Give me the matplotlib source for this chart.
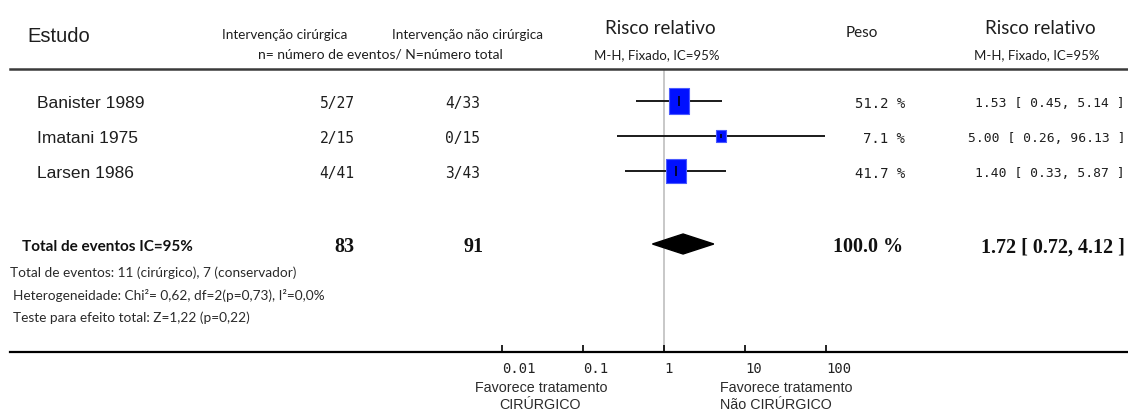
import numpy as np
import matplotlib
matplotlib.use("Agg")
import matplotlib.pyplot as plt
from matplotlib import transforms

# Study data
studies = ["Banister 1989", "Imatani 1975", "Larsen 1986"]
surg_events = ["5/27", "2/15", "4/41"]
nonsurg_events = ["4/33", "0/15", "3/43"]
rr = [1.53, 5.00, 1.40]
ci_low = [0.45, 0.26, 0.33]
ci_high = [5.14, 96.13, 5.87]
weights = [51.2, 7.1, 41.7]

total_surg = 83
total_nonsurg = 91
total_weight = 100.0
total_rr = 1.72
total_low = 0.72
total_high = 4.12

xticks = [0.01, 0.1, 1, 10, 100]
xtick_labels = ["0.01", "0.1", "1", "10", "100"]

footnotes = [
    "Total de eventos: 11 (cirúrgico), 7 (conservador)",
    "Heterogeneidade: Chi²= 0,62, df=2(p=0,73), I²=0,0%",
    "Teste para efeito total: Z=1,22 (p=0,22)",
]

W, H = 1128, 411
fig = plt.figure(figsize=(W / 100, H / 100), dpi=100)


def fx(px):
    return px / W


def fy(py):
    return 1 - py / H


# forest axes spans full width between header rule and axis line
top_px, bot_px = 69, 352
ax = fig.add_axes([fx(10), fy(bot_px), fx(W - 10), (bot_px - top_px) / H])
ax.set_xscale("log")
ref_px, decade_px = 664, 81
ax.set_xlim(10 ** ((10 - ref_px) / decade_px), 10 ** ((W - ref_px) / decade_px))
row0_px, row_step = 101, 35
ax.set_ylim((bot_px - row0_px) / row_step, (top_px - row0_px) / row_step)
total_y = (244 - row0_px) / row_step

for side in ["left", "right"]:
    ax.spines[side].set_visible(False)
ax.spines["top"].set_linewidth(1.8)
ax.spines["top"].set_color("#3a3a3a")
ax.spines["bottom"].set_linewidth(1.6)
ax.spines["bottom"].set_color("black")
ax.set_yticks([])
ax.set_xticks(xticks)
ax.set_xticklabels([])
ax.xaxis.set_minor_locator(matplotlib.ticker.NullLocator())
ax.tick_params(axis="x", direction="in", length=5, width=1.2, color="black")

# reference line at RR = 1
ax.axvline(1, color="#c4c4c4", lw=1.3, zorder=0)

rect = [(-0.82, -1), (0.82, -1), (0.82, 1), (-0.82, 1), (-0.82, -1)]
ys = np.arange(len(studies))
for y, est, lo, hi, w in zip(ys, rr, ci_low, ci_high, weights):
    ax.plot([lo, hi], [y, y], color="#1a1a1a", lw=1.4, zorder=2, solid_capstyle="butt")
    size = (3.0 * np.sqrt(w) + 4) * 0.72
    ax.plot(est, y, marker=rect, markersize=size, color="#0010ff",
            markeredgecolor="#4a5aff", markeredgewidth=0.8, zorder=3)
    ax.plot(est, y, marker="|", markersize=size * 0.4, color="black",
            markeredgewidth=1.1, zorder=4)

# pooled diamond
dh = 10 / row_step
ax.fill([total_low, total_rr, total_high, total_rr],
        [total_y, total_y - dh, total_y, total_y + dh], color="black", zorder=3)

# tick labels under axis
mono = "DejaVu Sans Mono"
for t, lab in zip(xticks, xtick_labels):
    ax.text(t, -0.035, lab, transform=ax.get_xaxis_transform(), ha="left", va="top",
            fontsize=10, family=mono, color="#222222")

tr = transforms.blended_transform_factory(fig.transFigure, ax.transData)

# header
sans = "Liberation Sans"
cal = "Lato"
dark = "#1e1e1e"
fig.text(fx(27), fy(37), "Estudo", fontsize=14.5, family=sans, va="center", color=dark)
fig.text(fx(285), fy(35), "Intervenção cirúrgica", fontsize=9.7, family=cal,
         ha="center", va="center", color=dark)
fig.text(fx(468), fy(35), "Intervenção não cirúrgica", fontsize=9.7, family=cal,
         ha="center", va="center", color=dark)
fig.text(fx(380), fy(54), "n= número de eventos/ N=número total", fontsize=10,
         family=cal, ha="center", va="center", color=dark)
fig.text(fx(660), fy(28), "Risco relativo", fontsize=13.5, family=cal,
         ha="center", va="center", color=dark)
fig.text(fx(657), fy(55), "M-H, Fixado, IC=95%", fontsize=9.5, family=cal,
         ha="center", va="center", color=dark)
fig.text(fx(862), fy(33), "Peso", fontsize=11, family=cal,
         ha="center", va="center", color=dark)
fig.text(fx(1040), fy(28), "Risco relativo", fontsize=13.5, family=cal,
         ha="center", va="center", color=dark)
fig.text(fx(1037), fy(55), "M-H, Fixado, IC=95%", fontsize=9.5, family=cal,
         ha="center", va="center", color=dark)

# study rows
for y, name, se, ne, est, lo, hi, w in zip(ys, studies, surg_events, nonsurg_events,
                                          rr, ci_low, ci_high, weights):
    yt = y + 0.08
    ax.text(fx(37), yt, name, transform=tr, fontsize=12.5, family=sans,
            va="center", color=dark)
    ax.text(fx(337), yt, se, transform=tr, fontsize=10.5, family=mono,
            ha="center", va="center", color=dark)
    ax.text(fx(463), yt, ne, transform=tr, fontsize=10.5, family=mono,
            ha="center", va="center", color=dark)
    ax.text(fx(905), yt, f"{w:.1f} %", transform=tr, fontsize=10, family=mono,
            ha="right", va="center", color=dark)
    ax.text(fx(1125), yt, f"{est:.2f} [ {lo:.2f}, {hi:.2f} ]", transform=tr,
            fontsize=9.4, family=mono, ha="right", va="center", color=dark)

# total row
yt = total_y + 0.1
ax.text(fx(22), yt, "Total de eventos IC=95%", transform=tr, fontsize=11,
        family=cal, weight="bold", va="center", color="#111111")
serif = "Liberation Serif"
ax.text(fx(344), yt, f"{total_surg}", transform=tr, fontsize=14.5, family=serif,
        weight="bold", ha="center", va="center", color="#111111")
ax.text(fx(474), yt, f"{total_nonsurg}", transform=tr, fontsize=14.5, family=serif,
        weight="bold", ha="center", va="center", color="#111111")
ax.text(fx(903), yt, f"{total_weight:.1f} %", transform=tr, fontsize=14.5,
        family=serif, weight="bold", ha="right", va="center", color="#111111")
ax.text(fx(1125), yt, f"{total_rr:.2f} [ {total_low:.2f}, {total_high:.2f} ]",
        transform=tr, fontsize=14.5, family=serif, weight="bold", ha="right",
        va="center", color="#111111")

# footnotes
for (xp, yp), txt in zip([(10, 273), (13, 295), (13, 318)], footnotes):
    fig.text(fx(xp), fy(yp), txt, fontsize=9.8, family=cal, va="center", color="#2a2a2a")

# favours labels
fig.text(fx(541), fy(388), "Favorece tratamento", fontsize=10.3, family=sans,
         ha="center", va="center", color="#2a2a2a")
fig.text(fx(540), fy(405), "CIRÚRGICO", fontsize=10.3, family=sans,
         ha="center", va="center", color="#2a2a2a")
fig.text(fx(720), fy(388), "Favorece tratamento", fontsize=10.3, family=sans,
         ha="left", va="center", color="#2a2a2a")
fig.text(fx(720), fy(405), "Não CIRÚRGICO", fontsize=10.3, family=sans,
         ha="left", va="center", color="#2a2a2a")

fig.savefig("out.png", dpi=100)
